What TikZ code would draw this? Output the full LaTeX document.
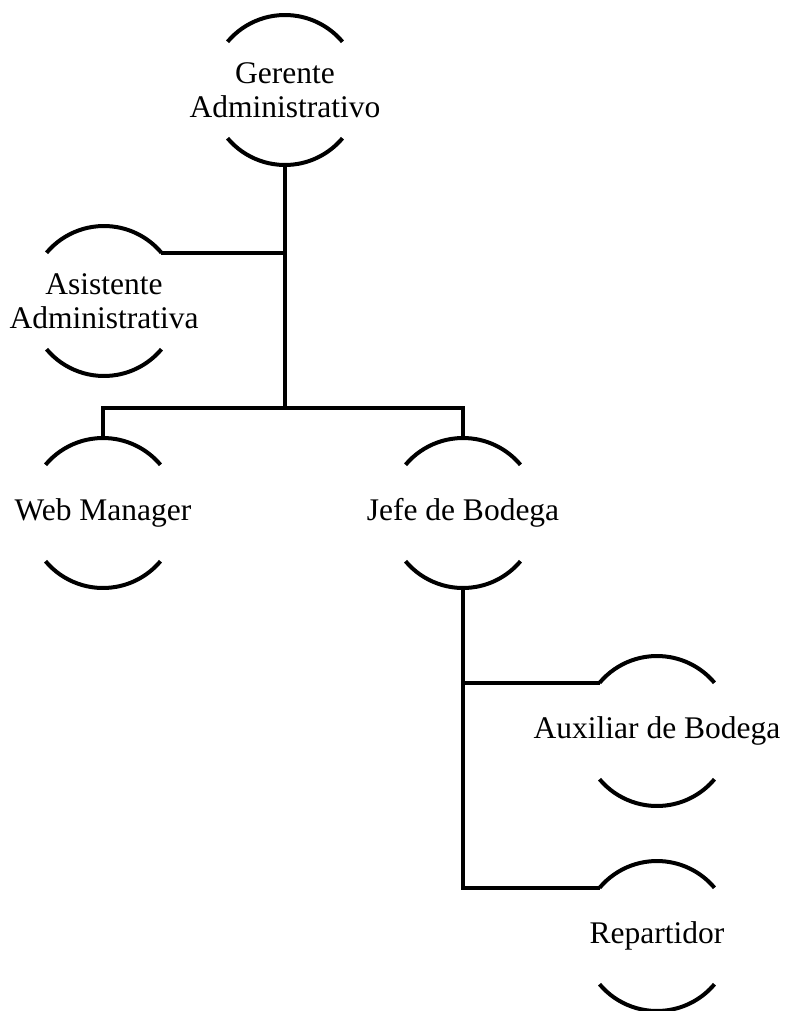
\documentclass[tikz,border=0pt]{standalone}
\usepackage{fontspec}
\setmainfont{Liberation Serif}
\usetikzlibrary{positioning}

\begin{document}
\begin{tikzpicture}[
    x=1pt, y=-1pt,
    role/.style={rectangle, minimum height=150pt, inner sep=0pt, align=center, font=\fontsize{31.5}{34}\selectfont},
    arcline/.style={line width=4pt, black},
    link/.style={line width=4pt, black}
]
\useasboundingbox (0,0) rectangle (787,1011);

% Roles
\node[role] (gerente) at (285,90) {Gerente\\Administrativo};
\node[role] (asistente) at (104,301) {Asistente\\Administrativa};
\node[role] (web) at (103,513) {Web Manager};
\node[role] (jefe) at (463,513) {Jefe de Bodega};
\node[role] (auxiliar) at (657,731) {Auxiliar de Bodega};
\node[role] (repartidor) at (657,936) {Repartidor};

% Open circles: top and bottom arcs only
\foreach \n in {gerente,asistente,web,jefe,auxiliar,repartidor}{
  \draw[arcline] ([shift={(140:75pt)}]\n.center) arc[start angle=140, end angle=40, radius=75pt];
  \draw[arcline] ([shift={(-140:75pt)}]\n.center) arc[start angle=-140, end angle=-40, radius=75pt];
}

% Connectors
\coordinate (bus) at (285,408);
\draw[link] (gerente.south) -- (bus);
\draw[link] ([shift={(40:75pt)}]asistente.center) coordinate (asis-in) -- (asis-in -| gerente.south);
\draw[link] (web.north) |- (bus) -| (jefe.north);
\draw[link] ([shift={(140:75pt)}]auxiliar.center) coordinate (aux-in) -- (aux-in -| jefe.south);
\draw[link] (jefe.south) |- ([shift={(140:75pt)}]repartidor.center);

\end{tikzpicture}
\end{document}
